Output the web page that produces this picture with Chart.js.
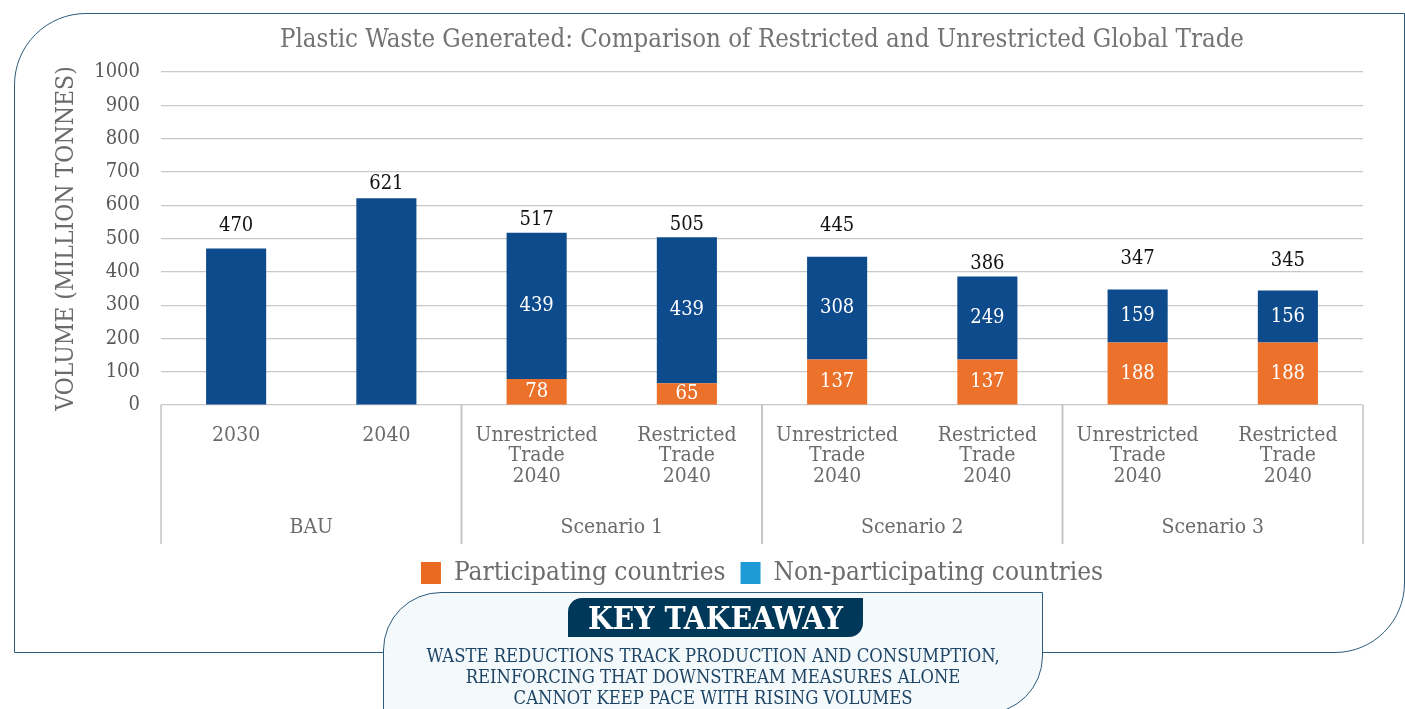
<!DOCTYPE html>
<html lang="en">
<head>
<meta charset="UTF-8">
<title>Plastic Waste Generated</title>
<style>
  html, body { margin: 0; padding: 0; background: #fff; }
  body { width: 1405px; height: 709px; position: relative; overflow: hidden; }
  .frame {
    position: absolute; left: 14px; top: 13px; width: 1391px; height: 640px;
    box-sizing: border-box; border: 1.5px solid #2d5b7c;
    border-radius: 72px 0 70px 0;
  }
  .wrap { position: absolute; left: 0; top: 0; width: 1405px; height: 604px; }
  .takeaway {
    position: absolute; left: 383px; top: 592px; width: 660px; height: 122px;
    box-sizing: border-box; border: 1.5px solid #2d5b7c; background: #f4f9fc;
    border-radius: 58px 0 58px 0;
    font-family: "DejaVu Serif Condensed", "DejaVu Serif", serif;
  }
  .badge {
    position: absolute; left: 184px; top: 5px; width: 295px; height: 39px;
    background: #00385a; color: #fff; border-radius: 14px 0 14px 0;
    font-size: 31.5px; font-weight: bold; line-height: 39px; text-align: center;
  }
  .msg {
    position: absolute; left: 0; right: 0; top: 52px;
    color: #1e4565; font-size: 18.3px; line-height: 21px; text-align: center;
  }
</style>
</head>
<body>

<div class="frame"></div>
<div class="wrap"><canvas id="myChart"></canvas></div>
<div class="takeaway">
  <div class="badge">KEY TAKEAWAY</div>
  <div class="msg">WASTE REDUCTIONS TRACK PRODUCTION AND CONSUMPTION,<br>REINFORCING THAT DOWNSTREAM MEASURES ALONE<br>CANNOT KEEP PACE WITH RISING VOLUMES</div>
</div>

<script src="https://cdn.jsdelivr.net/npm/chart.js@4.4.1/dist/chart.umd.min.js"></script>
<script>
const FONT = '"DejaVu Serif Condensed", "DejaVu Serif", serif';

const chartTitle = 'Plastic Waste Generated: Comparison of Restricted and Unrestricted Global Trade';
const categories = [
  ['2030'], ['2040'],
  ['Unrestricted', 'Trade', '2040'], ['Restricted', 'Trade', '2040'],
  ['Unrestricted', 'Trade', '2040'], ['Restricted', 'Trade', '2040'],
  ['Unrestricted', 'Trade', '2040'], ['Restricted', 'Trade', '2040']
];
const groups = ['BAU', 'Scenario 1', 'Scenario 2', 'Scenario 3'];
const groupSizes = [2, 2, 2, 2];

const participating = [null, null, 78, 65, 137, 137, 188, 188];
const nonParticipating = [470, 621, 439, 439, 308, 249, 159, 156];
const totals = [470, 621, 517, 505, 445, 386, 347, 345];

// how far each total label sits above its bar (px), as placed in the original
const totalLift = [23, 14, 13, 12, 31, 13, 31, 30];

const barColors = ['#ec712b', '#0d4b8d'];
const legendColors = ['#e8691f', '#1e9bd7'];

const titleDraw = {
  id: 'titleDraw',
  afterDraw(chart) {
    const ctx = chart.ctx;
    const a = chart.chartArea;
    ctx.save();
    ctx.font = '25.6px ' + FONT;
    ctx.fillStyle = '#737373';
    ctx.textAlign = 'center';
    ctx.textBaseline = 'middle';
    ctx.fillText(chartTitle, (a.left + a.right) / 2, 40);
    ctx.restore();
  }
};

const barLabels = {
  id: 'barLabels',
  afterDatasetsDraw(chart) {
    const ctx = chart.ctx;
    ctx.save();
    ctx.font = '20px ' + FONT;
    ctx.textAlign = 'center';
    ctx.textBaseline = 'middle';
    ctx.fillStyle = '#fff';
    chart.data.datasets.forEach((ds, di) => {
      chart.getDatasetMeta(di).data.forEach((bar, i) => {
        if (ds.data[i] == null || participating[i] == null) return;
        ctx.fillText(String(ds.data[i]), bar.x, (bar.y + bar.base) / 2);
      });
    });
    ctx.fillStyle = '#111';
    chart.getDatasetMeta(1).data.forEach((bar, i) => {
      ctx.fillText(String(totals[i]), bar.x, bar.y - totalLift[i]);
    });
    ctx.restore();
  }
};

const groupAxis = {
  id: 'groupAxis',
  afterDraw(chart) {
    const x = chart.scales.x;
    const ctx = chart.ctx;
    const cw = x.width / categories.length;
    const top = chart.chartArea.bottom;
    const bottom = x.bottom - 1;
    ctx.save();
    ctx.strokeStyle = '#c3c3c3';
    ctx.lineWidth = 1.5;
    ctx.font = '21px ' + FONT;
    ctx.fillStyle = '#6b6b6b';
    ctx.textAlign = 'center';
    ctx.textBaseline = 'middle';
    let start = 0;
    groups.forEach((g, gi) => {
      const end = start + groupSizes[gi] - 1;
      const left = x.getPixelForValue(start) - cw / 2;
      const right = x.getPixelForValue(end) + cw / 2;
      ctx.beginPath();
      ctx.moveTo(left, top); ctx.lineTo(left, bottom);
      ctx.moveTo(right, top); ctx.lineTo(right, bottom);
      ctx.stroke();
      ctx.fillText(g, (left + right) / 2, bottom - 16);
      start = end + 1;
    });
    ctx.restore();
  }
};

const config = {
  type: 'bar',
  data: {
    labels: categories,
    datasets: [
      {
        label: 'Participating countries',
        data: participating,
        backgroundColor: barColors[0],
        barPercentage: 0.4,
        categoryPercentage: 1
      },
      {
        label: 'Non-participating countries',
        data: nonParticipating,
        backgroundColor: barColors[1],
        barPercentage: 0.4,
        categoryPercentage: 1
      }
    ]
  },
  options: {
    responsive: true,
    maintainAspectRatio: false,
    animation: false,
    layout: { padding: { left: 40, right: 42, top: 72, bottom: 8 } },
    plugins: {
      tooltip: { enabled: false },
      title: { display: false },
      legend: {
        position: 'bottom',
        fullSize: false,
        labels: {
          color: '#6b6b6b',
          font: { family: FONT, size: 26 },
          boxWidth: 20,
          boxHeight: 22,
          padding: 15,
          generateLabels(chart) {
            return chart.data.datasets.map((ds, i) => ({
              text: ds.label,
              fillStyle: legendColors[i],
              strokeStyle: legendColors[i],
              lineWidth: 0,
              fontColor: '#6b6b6b',
              datasetIndex: i
            }));
          }
        }
      }
    },
    scales: {
      x: {
        stacked: true,
        grid: { display: false },
        border: { display: false },
        ticks: {
          color: '#6b6b6b',
          font: { family: FONT, size: 21, lineHeight: 0.98 },
          maxRotation: 0,
          autoSkip: false,
          padding: 12
        },
        afterFit(s) { s.height = 140; }
      },
      y: {
        stacked: true,
        min: 0,
        max: 1000,
        grid: { color: '#c8c8c8', lineWidth: 1.2, drawTicks: false },
        border: { display: false },
        ticks: {
          stepSize: 100,
          color: '#595959',
          font: { family: FONT, size: 20 },
          padding: 21,
          callback: v => String(v)
        },
        title: {
          display: true,
          text: 'VOLUME (MILLION TONNES)',
          color: '#6b6b6b',
          font: { family: FONT, size: 24.5 },
          padding: { top: 12, bottom: 0 }
        },
        afterFit(s) { s.width = 121; }
      }
    }
  },
  plugins: [barLabels, groupAxis, titleDraw]
};

const myChart = new Chart(document.getElementById('myChart'), config);
</script>

</body>
</html>
